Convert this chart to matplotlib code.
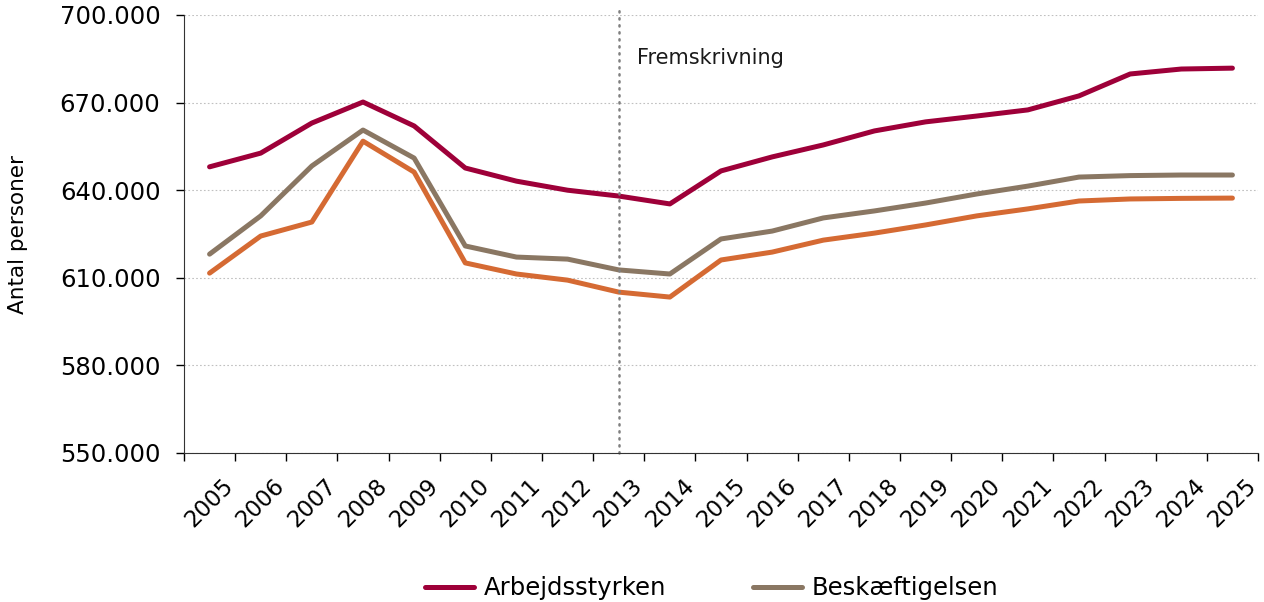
import matplotlib
matplotlib.use('Agg')
import matplotlib.pyplot as plt
from matplotlib.ticker import FuncFormatter, FixedLocator

years = [str(y) for y in range(2005, 2026)]
arbejdsstyrken = [648000, 652700, 663000, 670200, 662000, 647600, 643100, 640000, 638000, 635300,
                  646600, 651400, 655500, 660300, 663400, 665400, 667500, 672300, 679800, 681500, 681800]
beskaeftigelsen = [618100, 631200, 648300, 660600, 651000, 620900, 617100, 616400, 612700, 611300,
                   623300, 626000, 630500, 632900, 635600, 638700, 641400, 644500, 645000, 645200, 645200]
orange_serie = [611600, 624300, 629100, 656800, 646200, 615100, 611300, 609200, 605100, 603400,
                616100, 618800, 622900, 625300, 628100, 631200, 633600, 636300, 637000, 637200, 637300]
split_year = '2013'

def main():
	fig = plt.figure(figsize=(12.64, 6.02), dpi=100)
	ax = fig.add_axes([184/1264, 1-453/602, (1258-184)/1264, (453-15)/602])
	x = range(len(years))

	ax.plot(x, arbejdsstyrken, color='#9E0039', lw=3.6, label='Arbejdsstyrken', solid_capstyle='round', solid_joinstyle='round')
	ax.plot(x, beskaeftigelsen, color='#8A7763', lw=3.6, label='Beskæftigelsen', solid_capstyle='round', solid_joinstyle='round')
	ax.plot(x, orange_serie, color='#D56A33', lw=3.6, label='_nolegend_', solid_capstyle='round', solid_joinstyle='round')

	xs = years.index(split_year)
	ax.axvline(xs, ymin=0, ymax=1.016, color='#808080', lw=1.8, ls=(0, (0.5, 2.3)), dash_capstyle='round', clip_on=False)
	ax.text(xs + 0.36, 685300, 'Fremskrivning', fontsize=15, va='center', ha='left', color='#1a1a1a')

	ax.set_xlim(-0.5, len(years) - 0.5)
	ax.set_ylim(550000, 700000)
	ax.set_yticks(range(550000, 700001, 30000))
	ax.yaxis.set_major_formatter(FuncFormatter(lambda v, p: '{:,.0f}'.format(v).replace(',', '.')))
	ax.set_xticks(list(x))
	ax.set_xticklabels(years, rotation=45, ha='center')
	ax.xaxis.set_minor_locator(FixedLocator([i - 0.5 for i in range(len(years) + 1)]))
	ax.tick_params(axis='x', which='major', length=0, pad=15, labelsize=16.5)
	ax.tick_params(axis='x', which='minor', length=6, width=1)
	ax.tick_params(axis='y', length=6, width=1, pad=11, labelsize=17.5)

	ax.grid(axis='y', color='#c0c0c0', ls=(0, (1.5, 2)), lw=0.8)
	ax.set_axisbelow(True)
	for s in ['top', 'right']:
		ax.spines[s].set_visible(False)
	ax.spines['left'].set_color('#333333')
	ax.spines['bottom'].set_color('#333333')
	ax.set_ylabel('Antal personer', fontsize=15.5)
	ax.yaxis.set_label_coords(-0.145, 0.5)

	fig.legend(loc='center', bbox_to_anchor=(0.563, 0.023), ncol=2, frameon=False, fontsize=17.5,
	           handlelength=2.0, handletextpad=0.4, columnspacing=3.6)

	fig.savefig('out.png', dpi=100)

if __name__ == "__main__":
	main()
